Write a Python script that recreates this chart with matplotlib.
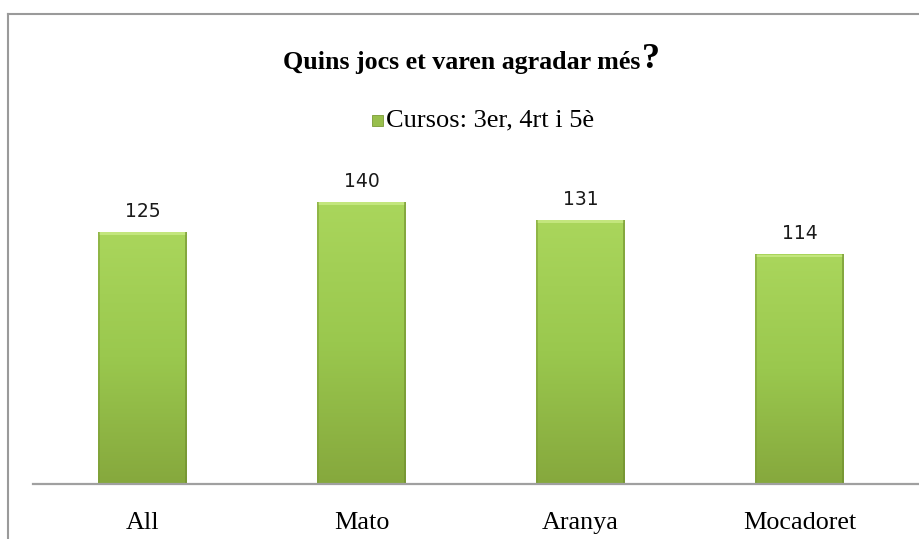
import numpy as np
import matplotlib
matplotlib.use("Agg")
import matplotlib.pyplot as plt
from matplotlib.lines import Line2D
from matplotlib.colors import LinearSegmentedColormap

categories = ["All", "Mato", "Aranya", "Mocadoret"]
values = [125, 140, 131, 114]
series_name = "Cursos: 3er, 4rt i 5è"
title = "Quins jocs et varen agradar més"

W, H = 920, 539
fig = plt.figure(figsize=(W / 100, H / 100), dpi=100)
fig.patch.set_facecolor("white")

ax = fig.add_axes([33 / W, 1 - 484 / H, 1 - 33 / W, (484 - 161.4) / H])
x = np.arange(len(categories))
bars = ax.bar(x, values, width=0.406, color="#98bf4c", edgecolor="none", zorder=2)

# vertical gradient + bevel look on each bar
cmap = LinearSegmentedColormap.from_list("g", ["#aad65c", "#9ac84e", "#86a83d"])
grad = np.linspace(0, 1, 256).reshape(-1, 1)
for b in bars:
    x0, w, h = b.get_x(), b.get_width(), b.get_height()
    im = ax.imshow(grad, cmap=cmap, aspect="auto", extent=[x0, x0 + w, 0, h],
                   zorder=3, interpolation="bicubic")
    im.set_clip_path(b)
    # lighter top edge
    ax.fill_between([x0 + 0.006, x0 + w - 0.006], h - 1.6, h - 0.2,
                    color="#c8ea84", alpha=0.85, zorder=4, linewidth=0)
    # darker side edges
    ax.fill_between([x0, x0 + 0.008], 0, h, color="#7a9a35", alpha=0.5, zorder=4, linewidth=0)
    ax.fill_between([x0 + w - 0.008, x0 + w], 0, h, color="#6e8c2e", alpha=0.6, zorder=4, linewidth=0)
    ax.annotate(f"{int(h)}", (x0 + w / 2, h), xytext=(0, 8), textcoords="offset points",
                ha="center", va="bottom", fontsize=13.5, family="DejaVu Sans", color="#1a1a1a")

ax.set_xlim(-0.5, 3.55)
ax.set_ylim(0, 160)
ax.set_yticks([])
ax.set_xticks(x)
ax.set_xticklabels(categories, family="Liberation Serif", fontsize=18.8)
ax.tick_params(axis="x", length=0, pad=20)
for s in ["top", "right", "left"]:
    ax.spines[s].set_visible(False)
ax.spines["bottom"].set_color("#a0a0a0")
ax.spines["bottom"].set_linewidth(1.6)
ax.spines["bottom"].set_zorder(5)
ax.patch.set_alpha(0)

# title with larger question mark
t = fig.text(283 / W, 1 - 62 / H, title, family="Liberation Serif", fontweight="bold",
             fontsize=18.7, ha="left", va="center")
fig.canvas.draw()
bb = t.get_window_extent()
fig.text(bb.x1 / W + 2 / W, 1 - 60 / H, "?", family="Liberation Serif", fontweight="bold",
         fontsize=26, ha="left", va="center")

# legend
fig.patches.append(plt.Rectangle((372 / W, 1 - 126 / H), 11 / W, 11 / H,
                                 transform=fig.transFigure, facecolor="#98bf4c",
                                 edgecolor="#7a9a35", linewidth=0.6))
fig.text(386 / W, 1 - 120 / H, series_name, family="Liberation Serif", fontsize=19,
         ha="left", va="center")

# chart border
fig.add_artist(Line2D([8 / W, 8 / W], [0, 1 - 14 / H], transform=fig.transFigure,
                      color="#9a9a9a", linewidth=1.5))
fig.add_artist(Line2D([8 / W, 1], [1 - 14 / H, 1 - 14 / H], transform=fig.transFigure,
                      color="#9a9a9a", linewidth=1.5))

fig.savefig("out.png", dpi=100)
